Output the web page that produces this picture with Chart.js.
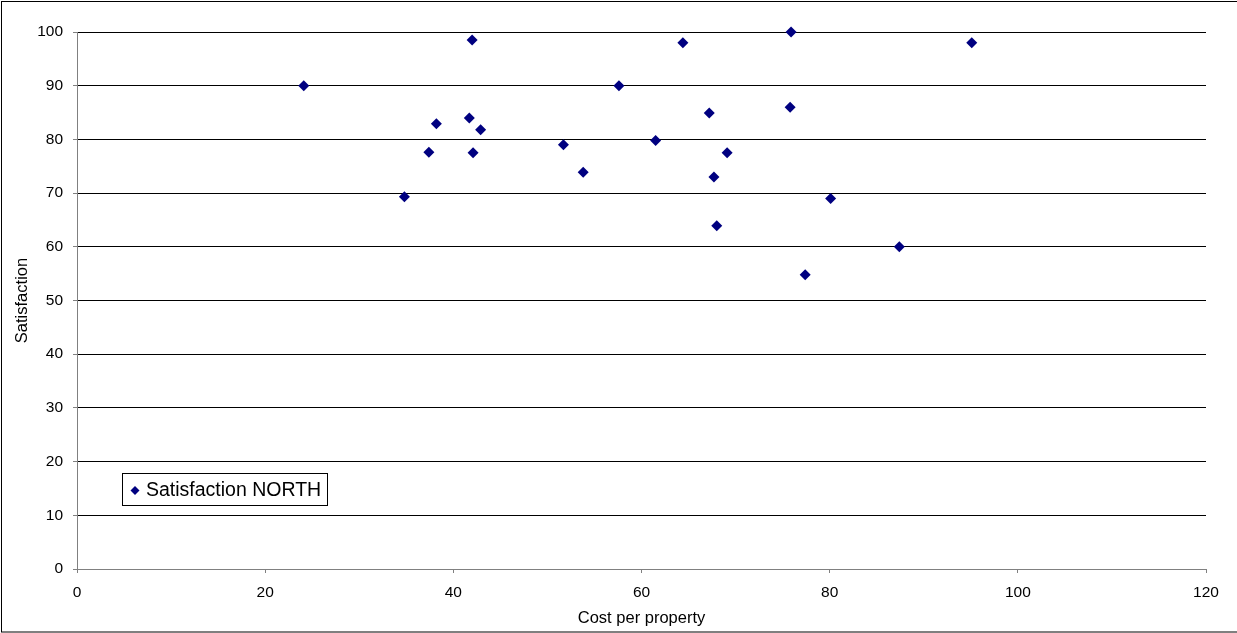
<!DOCTYPE html>
<html>
<head>
<meta charset="utf-8">
<script src="https://cdn.jsdelivr.net/npm/chart.js@4/dist/chart.umd.min.js"></script>
<style>
  html, body { margin: 0; padding: 0; background: #ffffff; }
  #wrap { width: 1237px; height: 633px; position: relative; }
</style>
</head>
<body>
<div id="wrap"><canvas id="chart" width="1237" height="633"></canvas></div>
<script>
// Cost per property (x) and satisfaction score (y) for each NORTH property
const costPerProperty = [24.1, 34.8, 37.4, 38.2, 41.7, 42.0, 42.1, 42.9, 51.7, 53.8, 57.6,
  61.5, 64.4, 67.2, 67.7, 68.0, 69.1, 75.8, 75.9, 77.4, 80.1, 87.4, 95.1];
const satisfaction = [90.0, 69.3, 77.6, 82.9, 84.0, 98.5, 77.5, 81.8, 79.0, 73.9, 90.0,
  79.8, 98.0, 84.9, 73.0, 63.9, 77.5, 86.0, 100.0, 54.8, 69.0, 60.0, 98.0];
const seriesName = 'Satisfaction NORTH';
const xTicks = [0, 20, 40, 60, 80, 100, 120];
const yTicks = [0, 10, 20, 30, 40, 50, 60, 70, 80, 90, 100];

const points = costPerProperty.map((c, i) => ({ x: c, y: satisfaction[i] }));

const FONT = 'Liberation Sans, Arial, sans-serif';
const NAVY = '#000080';
const AXIS_GREY = '#808080';

// Thin frame around the whole chart
const framePlugin = {
  id: 'frame',
  beforeDraw(chart) {
    const ctx = chart.ctx;
    ctx.save();
    ctx.fillStyle = '#ffffff';
    ctx.fillRect(0, 0, chart.width, chart.height);
    ctx.strokeStyle = '#000000';
    ctx.lineWidth = 1;
    ctx.strokeRect(1.5, 1.5, chart.width + 4, chart.height - 2.5);
    ctx.restore();
  }
};

// Boxed legend placed inside the plot area, lower left
const boxLegendPlugin = {
  id: 'boxLegend',
  afterDraw(chart) {
    const ctx = chart.ctx;
    const ds = chart.data.datasets[0];
    const x = 122.5, y = 473.5, w = 205, h = 32;
    ctx.save();
    ctx.fillStyle = '#ffffff';
    ctx.fillRect(x, y, w, h);
    ctx.strokeStyle = '#000000';
    ctx.lineWidth = 1;
    ctx.strokeRect(x, y, w, h);
    // diamond marker
    const mx = 135, my = y + h / 2 + 1, r = 4.5;
    ctx.fillStyle = ds.backgroundColor;
    ctx.beginPath();
    ctx.moveTo(mx, my - r);
    ctx.lineTo(mx + r, my);
    ctx.lineTo(mx, my + r);
    ctx.lineTo(mx - r, my);
    ctx.closePath();
    ctx.fill();
    ctx.fillStyle = '#000000';
    ctx.font = '19.5px ' + FONT;
    ctx.textBaseline = 'middle';
    ctx.textAlign = 'left';
    ctx.fillText(ds.label, 146, y + h / 2 + 1);
    ctx.restore();
  }
};

new Chart(document.getElementById('chart'), {
  type: 'scatter',
  data: {
    datasets: [{
      label: seriesName,
      data: points,
      backgroundColor: NAVY,
      borderColor: NAVY,
      pointStyle: 'rectRot',
      pointRadius: 5.5,
      pointHoverRadius: 5.5,
      borderWidth: 0,
      clip: false
    }]
  },
  plugins: [framePlugin, boxLegendPlugin],
  options: {
    responsive: false,
    animation: false,
    events: [],
    layout: { padding: { left: 0, top: 32, right: 31, bottom: 0 } },
    plugins: {
      legend: { display: false },
      tooltip: { enabled: false }
    },
    scales: {
      x: {
        type: 'linear',
        min: 0,
        max: 120,
        afterBuildTicks(scale) { scale.ticks = xTicks.map(v => ({ value: v })); },
        afterFit(scale) { scale.height = 64; },
        grid: {
          drawOnChartArea: false,
          drawTicks: true,
          tickLength: 4,
          color: AXIS_GREY,
          tickColor: AXIS_GREY
        },
        border: { display: true, color: AXIS_GREY, width: 1 },
        ticks: {
          color: '#000000',
          font: { family: FONT, size: 15.5 },
          padding: 10,
          maxRotation: 0
        },
        title: {
          display: true,
          text: 'Cost per property',
          color: '#000000',
          font: { family: FONT, size: 16.5 },
          padding: { top: 0, bottom: 5 }
        }
      },
      y: {
        type: 'linear',
        min: 0,
        max: 100,
        afterBuildTicks(scale) { scale.ticks = yTicks.map(v => ({ value: v })); },
        afterFit(scale) { scale.width = 77; },
        grid: {
          drawTicks: true,
          tickLength: 4,
          color: ctx => (ctx.tick && ctx.tick.value === 0 ? AXIS_GREY : '#000000'),
          tickColor: AXIS_GREY
        },
        border: { display: true, color: AXIS_GREY, width: 1 },
        ticks: {
          color: '#000000',
          font: { family: FONT, size: 15.5 },
          padding: 10
        },
        title: {
          display: true,
          text: 'Satisfaction',
          color: '#000000',
          font: { family: FONT, size: 16.5 },
          padding: { top: 13, bottom: 0 }
        }
      }
    }
  }
});
</script>
</body>
</html>
